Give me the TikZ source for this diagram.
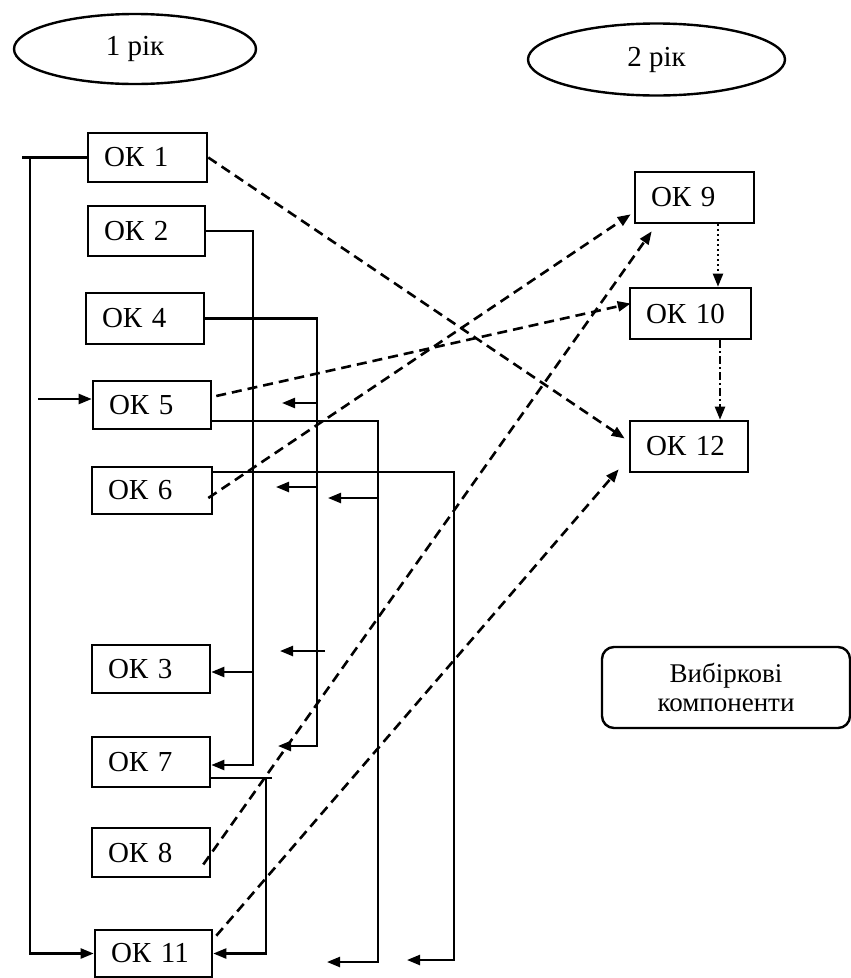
\documentclass[tikz,border=0pt]{standalone}
\usepackage{fontspec}
\setmainfont{Liberation Serif}
\usetikzlibrary{arrows.meta,shapes.geometric,calc}
\begin{document}
\begin{tikzpicture}[x=1pt,y=-1pt,
  okbox/.style={draw, line width=2.6pt, inner xsep=16pt, inner ysep=0pt, align=left,
    font=\fontsize{29}{32}\selectfont},
  yearell/.style={draw, ellipse, line width=2.4pt, inner sep=0pt, font=\fontsize{29}{32}\selectfont},
  ln/.style={line width=2.3pt},
  arr/.style={ln, -{Triangle[length=13pt,width=10pt]}},
  dsh/.style={line width=2.6pt, dash pattern=on 10pt off 6pt, -{Triangle[length=13pt,width=10pt]}},
  dotln/.style={line width=2pt, dash pattern=on 2pt off 3pt, -{Triangle[length=13pt,width=10pt]}},
  dashdotln/.style={line width=2.2pt, dash pattern=on 8pt off 3pt on 2pt off 3pt, -{Triangle[length=13pt,width=10pt]}}
]
\useasboundingbox (0,0) rectangle (851,978);

% year ellipses
\node[yearell, minimum width=242pt, minimum height=70pt] (Y1) at (135,49) {1 рік};
\node[yearell, minimum width=257pt, minimum height=72pt] (Y2) at (656.5,59.5) {2 рік};

% left column boxes
\node[okbox, text width=87pt, minimum height=49pt] (OK1) at (147.5,157.5) {ОК 1};
\node[okbox, text width=85pt, minimum height=50pt] (OK2) at (146.5,231) {ОК 2};
\node[okbox, text width=86pt, minimum height=51pt] (OK4) at (145,318.5) {ОК 4};
\node[okbox, text width=86pt, minimum height=48pt] (OK5) at (152,405) {ОК 5};
\node[okbox, text width=88pt, minimum height=47pt] (OK6) at (152,490.5) {ОК 6};
\node[okbox, text width=86pt, minimum height=48pt] (OK3) at (151,669) {ОК 3};
\node[okbox, text width=86pt, minimum height=50pt] (OK7) at (151,762) {ОК 7};
\node[okbox, text width=86pt, minimum height=49pt] (OK8) at (151,852.5) {ОК 8};
\node[okbox, text width=85pt, minimum height=47pt] (OK11) at (153.5,953.5) {ОК 11};

% right column boxes
\node[okbox, text width=87pt, minimum height=51pt] (OK9) at (694.5,197.5) {ОК 9};
\node[okbox, text width=89pt, minimum height=51pt] (OK10) at (690.5,313.5) {ОК 10};
\node[okbox, text width=86pt, minimum height=51pt] (OK12) at (689,446.5) {ОК 12};

% elective components
\node[draw, line width=2.4pt, rounded corners=12pt, minimum width=248pt, minimum height=81pt,
  align=center, font=\fontsize{27}{29}\selectfont] (VK) at (726,687.5) {Вибіркові\\компоненти};

% ---- left bus
\coordinate (b0) at (22,157.5);
\coordinate (b1) at (30,157.5);
\coordinate (b5) at (38,399);
\draw[ln] (b0) -- (OK1.west);
\draw[arr] (b1) |- (OK11.west);
\draw[arr] (b5) -- (OK5.west |- b5);

% ---- OK2 line
\coordinate (c2a) at (253,231);
\coordinate (c2b) at (253,765);
\coordinate (c2c) at (253,672);
\draw[arr] (OK2.east |- c2a) -- (c2a) -- (c2b) -- (OK7.east |- c2b);
\draw[arr] (c2c) -- (OK3.east |- c2c);

% ---- OK4 line
\coordinate (c4a) at (317,318.5);
\coordinate (c4b) at (317,746);
\coordinate (t4d) at (278,746);
\draw[arr] (OK4.east) -- (c4a) -- (c4b) -- (t4d);
\coordinate (s4a) at (317,403); \coordinate (t4a) at (282,403);
\coordinate (s4b) at (317,487); \coordinate (t4b) at (276,487);
\coordinate (s4c) at (325,651); \coordinate (t4c) at (280,651);
\draw[arr] (s4a) -- (t4a);
\draw[arr] (s4b) -- (t4b);
\draw[arr] (s4c) -- (t4c);

% ---- OK5 line
\coordinate (c5a) at (378,421);
\coordinate (c5b) at (378,962);
\coordinate (t5b) at (327,962);
\draw[arr] (OK5.east |- c5a) -- (c5a) -- (c5b) -- (t5b);
\coordinate (s5a) at (378,498); \coordinate (t5a) at (328,498);
\draw[arr] (s5a) -- (t5a);

% ---- OK6 line
\coordinate (c6a) at (454,472);
\coordinate (c6b) at (454,960);
\coordinate (t6b) at (407,960);
\draw[arr] (OK6.east |- c6a) -- (c6a) -- (c6b) -- (t6b);

% ---- OK7 line
\coordinate (c7) at (266,778);
\coordinate (c7e) at (272,778);
\draw[ln] (OK7.east |- c7) -- (c7e);
\draw[arr] (c7) |- (OK11.east);

% ---- dashed links
\draw[dsh] (OK1.east) -- ($(OK12.west)+(-4,-8)$);
\draw[dsh] ($(OK5.east)+(4,-9)$) -- ($(OK10.west)+(2,-10)$);
\draw[dsh] ($(OK6.east)+(-5,7.5)$) -- ($(OK9.south west)+(-3,-10)$);
\draw[dsh] ($(OK8.east)+(-8,12)$) -- ($(OK9.south west)+(18,7)$);
\draw[dsh] ($(OK11.north east)+(3,7)$) -- ($(OK12.south west)+(-10,-4)$);

% ---- right column
\coordinate (vx1) at (718,0);
\coordinate (vx2) at (720,0);
\draw[dotln] (OK9.south -| vx1) -- (OK10.north -| vx1);
\draw[dashdotln] (OK10.south -| vx2) -- (OK12.north -| vx2);
\end{tikzpicture}
\end{document}
